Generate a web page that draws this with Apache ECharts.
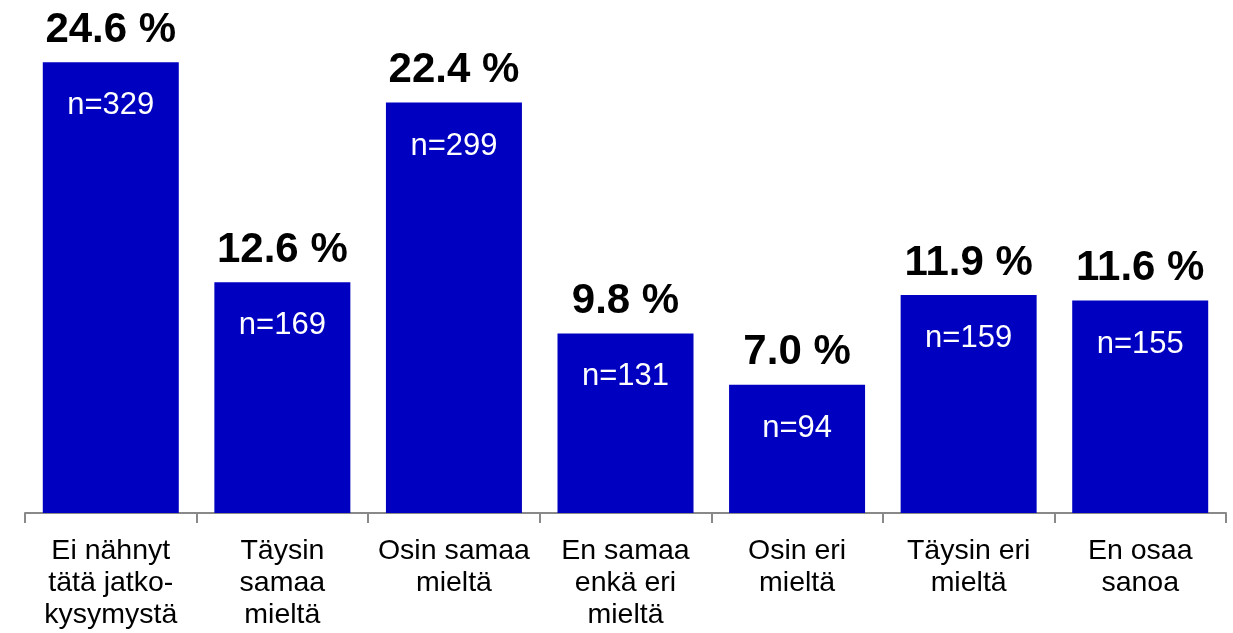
<!DOCTYPE html>
<html>
<head>
<meta charset="utf-8">
<script src="https://cdn.jsdelivr.net/npm/echarts@6/dist/echarts.min.js"></script>
<style>
html, body { margin: 0; padding: 0; background: #fff; }
#graph { width: 1233px; height: 633px; }
</style>
</head>
<body>
<div id="graph"></div>
<script>
var categories = ['Ei nähnyt\ntätä jatko-\nkysymystä', 'Täysin\nsamaa\nmieltä', 'Osin samaa\nmieltä',
    'En samaa\nenkä eri\nmieltä', 'Osin eri\nmieltä', 'Täysin eri\nmieltä', 'En osaa\nsanoa'];
var percents = [24.6, 12.6, 22.4, 9.8, 7.0, 11.9, 11.6];
var counts = [329, 169, 299, 131, 94, 159, 155];

var dom = document.getElementById("graph");
var myChart = echarts.init(dom);
var font = '"Liberation Sans", Arial, sans-serif';

var option = {
    animation: false,
    grid: {
        left: 25,
        right: 7,
        top: 0,
        bottom: 120
    },
    xAxis: {
        type: 'category',
        data: categories,
        axisLine: {
            lineStyle: { color: '#898989', width: 2 }
        },
        axisTick: {
            show: true,
            alignWithLabel: false,
            interval: 0,
            length: 10,
            lineStyle: { color: '#898989', width: 2 }
        },
        axisLabel: {
            interval: 0,
            margin: 22,
            color: '#000',
            fontSize: 28.5,
            lineHeight: 32,
            fontFamily: font
        }
    },
    yAxis: {
        type: 'value',
        min: 0,
        max: 28,
        show: false
    },
    series: [{
        type: 'bar',
        data: percents,
        barWidth: 136,
        itemStyle: { color: '#0000C0' },
        label: {
            show: true,
            position: 'insideTop',
            distance: 28,
            color: '#fff',
            fontSize: 31,
            fontFamily: font,
            formatter: function (p) { return 'n=' + counts[p.dataIndex]; }
        }
    }, {
        type: 'bar',
        data: percents,
        barWidth: 136,
        barGap: '-100%',
        itemStyle: { color: 'transparent' },
        label: {
            show: true,
            position: 'top',
            distance: 11,
            color: '#000',
            fontSize: 42,
            fontWeight: 'bold',
            fontFamily: font,
            formatter: function (p) { return p.value.toFixed(1) + ' %'; }
        }
    }]
};
myChart.setOption(option, true);
</script>
</body>
</html>
